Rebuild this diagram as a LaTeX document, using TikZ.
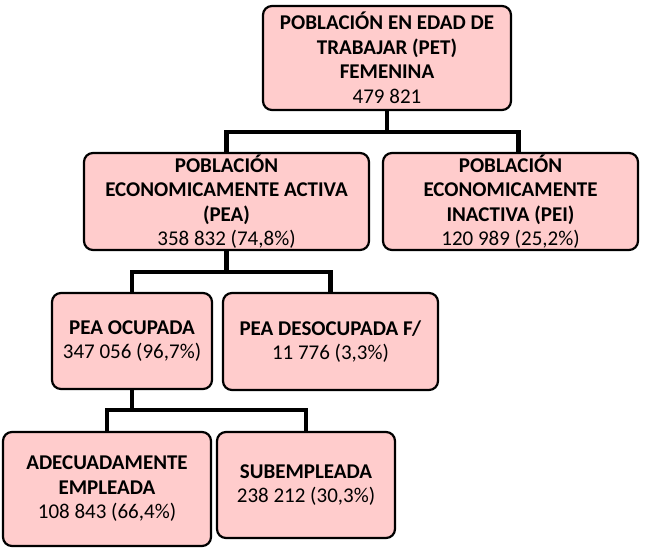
\documentclass[tikz,border=0pt]{standalone}
\usepackage{fontspec}
\setmainfont{Carlito}
\definecolor{boxfill}{HTML}{FFCCCC}
\tikzset{
  box/.style={draw=black, line width=2.2pt, fill=boxfill, rounded corners=9pt,
    inner sep=0pt, align=center, font=\fontsize{21}{24.5}\selectfont},
  conn/.style={draw=black, line width=4.3pt, line join=miter}
}
\begin{document}
\begin{tikzpicture}[x=1pt,y=-1pt]
\useasboundingbox (0,0) rectangle (650,548);
\coordinate (j1) at (387,132);
\coordinate (j2) at (226.5,272);
\coordinate (j3) at (132,410);
\node[box, minimum width=248pt, minimum height=104pt] (top) at (387,58)
  {\textbf{POBLACIÓN EN EDAD DE}\\\textbf{TRABAJAR (PET)}\\\textbf{FEMENINA}\\479 821};
\node[box, minimum width=285pt, minimum height=97pt] (pea) at (226.5,201.5)
  {\textbf{POBLACIÓN}\\\textbf{ECONOMICAMENTE ACTIVA}\\\textbf{(PEA)}\\358 832 (74,8\%)};
\node[box, minimum width=255pt, minimum height=97pt] (pei) at (510.5,201.5)
  {\textbf{POBLACIÓN}\\\textbf{ECONOMICAMENTE}\\\textbf{INACTIVA (PEI)}\\120 989 (25,2\%)};
\node[box, minimum width=160pt, minimum height=96pt] (ocu) at (132,341)
  {\textbf{PEA OCUPADA}\\347 056 (96,7\%)};
\node[box, minimum width=215pt, minimum height=97pt] (des) at (330.5,341.5)
  {\textbf{PEA DESOCUPADA F/}\\11 776 (3,3\%)};
\node[box, minimum width=208pt, minimum height=114pt] (ade) at (107,489)
  {\textbf{ADECUADAMENTE}\\\textbf{EMPLEADA}\\108 843 (66,4\%)};
\node[box, minimum width=178pt, minimum height=106pt] (sub) at (306,485)
  {\textbf{SUBEMPLEADA}\\238 212 (30,3\%)};
% level 1
\draw[conn] (top.south) -- (j1);
\draw[conn] (pea.north) |- (j1) -| ([xshift=8pt]pei.north);
% level 2
\draw[conn] (pea.south) -- (j2);
\draw[conn] (ocu.north) |- (j2) -| (des.north);
% level 3
\draw[conn] (ocu.south) -- (j3);
\draw[conn] (ade.north) |- (j3) -| (sub.north);
\end{tikzpicture}
\end{document}
